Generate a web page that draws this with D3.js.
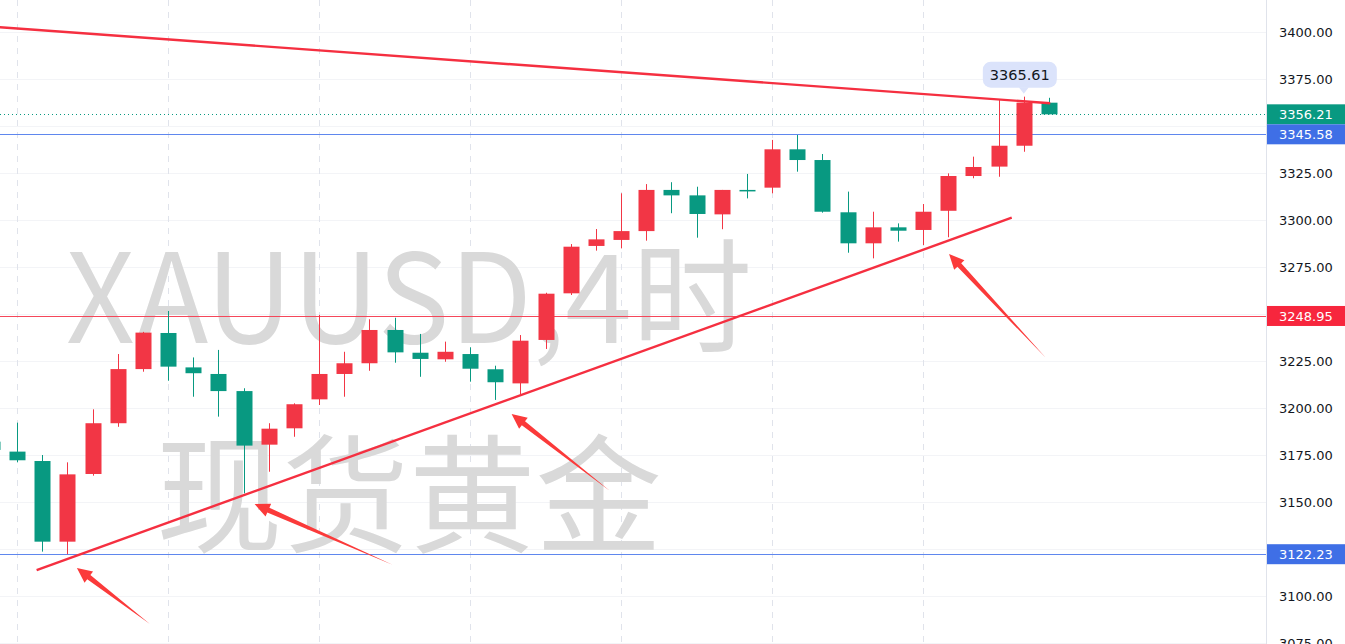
<!DOCTYPE html>
<html><head><meta charset="utf-8">
<script src="https://cdn.jsdelivr.net/npm/d3@7"></script>
<style>html,body{margin:0;padding:0;background:#fff;overflow:hidden}svg{display:block}</style>
</head><body>
<svg id="c" width="1345" height="644"></svg>
<script>
// ---- data ----
const idx    = [-1,0,1,2,3,4,5,6,7,8,9,10,11,12,13,14,15,16,17,18,19,20,21,22,23,24,25,26,27,28,29,30,31,32,33,34,35,36,37,38,39,40,41];
const opens  = [3182.1,3176.8,3171.8,3128.9,3164.9,3191.9,3220.7,3239.9,3221.6,3218.1,3209.0,3180.5,3189.2,3204.6,3218.1,3223.8,3241.5,3229.4,3225.9,3228.7,3220.6,3213.1,3236.2,3261.0,3286.2,3289.4,3294.1,3316.0,3313.1,3303.0,3316.0,3317.2,3337.6,3331.9,3304.1,3287.6,3296.1,3294.7,3304.9,3323.4,3328.4,3339.5,3362.4];
const highs  = [3184.0,3192.2,3175.0,3171.1,3199.3,3228.7,3240.5,3251.6,3226.9,3230.9,3210.5,3191.9,3202.5,3249.5,3229.9,3247.2,3248.0,3239.4,3235.3,3232.3,3222.5,3238.8,3261.3,3287.2,3295.2,3314.2,3319.1,3320.1,3317.7,3316.0,3324.5,3342.6,3345.2,3335.1,3315.1,3304.4,3298.2,3308.5,3324.8,3333.7,3363.8,3365.61,3365.0];
const lows   = [3176.0,3171.1,3123.6,3122.2,3164.0,3190.0,3219.3,3214.5,3206.0,3195.4,3154.6,3166.1,3184.7,3201.6,3206.0,3219.8,3224.1,3216.6,3224.6,3214.0,3204.3,3207.4,3231.4,3260.1,3283.7,3284.9,3289.0,3303.6,3290.6,3295.1,3311.5,3314.2,3325.7,3303.9,3282.6,3279.6,3288.5,3286.7,3290.8,3322.2,3323.0,3336.3,3356.21];
const closes = [3177.7,3172.2,3128.9,3164.7,3191.9,3220.7,3240.1,3222.0,3218.5,3209.0,3180.0,3189.0,3202.0,3218.1,3223.8,3241.5,3229.6,3226.1,3229.9,3220.9,3213.7,3235.8,3260.8,3285.8,3289.7,3294.1,3316.0,3313.1,3303.2,3316.0,3315.3,3337.6,3331.9,3304.4,3287.6,3296.1,3294.3,3304.4,3323.4,3328.2,3339.5,3362.4,3356.21];
const yTicks = [3075,3100,3125,3150,3175,3200,3225,3250,3275,3300,3325,3350,3375,3400];
const yTickLabels = ["3075.00","3100.00","3125.00","3150.00","3175.00","3200.00","3225.00","3250.00","3275.00","3300.00","3325.00","3350.00","3375.00","3400.00"];
const dayStarts = [0,6,12,18,24,30,36];
const levelPrices = [3345.58,3248.95,3122.23];
const levelColors = ["blue","red","blue"];
const lastPrice = 3356.21;
const peakIndex = 40, peakPrice = 3365.61;
const resistLine = [[-1.5,3403.3],[41.05,3362.1]];
const supportLine = [[0.78,3113.8],[39.52,3301.2]];
const arrows = [ // [tail, head]
  [[5.28,3085.1],[2.38,3114.9]],
  [[14.94,3116.5],[9.44,3148.9]],
  [[23.56,3155.9],[19.65,3196.8]],
  [[40.88,3226.6],[37.03,3281.9]]
];
const wmLine1 = "XAUUSD,4时";
const wmLine2 = "现货黄金";

// ---- layout ----
const W = 1345, H = 644, plotRight = 1266;
const UP = "#f23645", DOWN = "#089981";
const BLUE_LINE = "#5f87ee", BLUE_LABEL = "#3f6fe6", RED_LINE = "#f5475a", RED_LABEL = "#f7263d";
const TREND = "#f52f40";

const x = d3.scaleLinear().domain([0,41]).range([17,1049]);
const y = d3.scaleLinear().domain([3075,3400]).range([643,32]);

const svg = d3.select("#c");
svg.append("defs").append("clipPath").attr("id","plot")
  .append("rect").attr("x",0).attr("y",0).attr("width",plotRight).attr("height",H);

const plot = svg.append("g").attr("clip-path","url(#plot)");

// horizontal faint grid
plot.append("g").selectAll("line").data(yTicks).join("line")
  .attr("x1",0).attr("x2",plotRight).attr("y1",d=>Math.round(y(d))+0.5).attr("y2",d=>Math.round(y(d))+0.5)
  .attr("stroke","#f3f4f7").attr("stroke-width",1);
// vertical dashed grid
plot.append("g").selectAll("line").data(dayStarts).join("line")
  .attr("x1",d=>Math.round(x(d))+0.5).attr("x2",d=>Math.round(x(d))+0.5).attr("y1",0).attr("y2",H)
  .attr("stroke","#e0e3eb").attr("stroke-width",1).attr("stroke-dasharray","6,6");

// watermark
const wm = plot.append("g").attr("fill","#d9d9d9").attr("font-family","'Noto Sans CJK SC', sans-serif");
wm.append("text").attr("x",66).attr("y",343).attr("font-size",124).attr("textLength",686).attr("lengthAdjust","spacingAndGlyphs").text(wmLine1);
wm.append("text").attr("x",156).attr("y",543).attr("font-size",128).attr("textLength",506).attr("lengthAdjust","spacingAndGlyphs").text(wmLine2);

// level lines
plot.append("g").selectAll("line").data(levelPrices).join("line")
  .attr("x1",0).attr("x2",plotRight).attr("y1",d=>Math.round(y(d))+0.5).attr("y2",d=>Math.round(y(d))+0.5)
  .attr("stroke",(d,i)=>levelColors[i]==="blue"?BLUE_LINE:RED_LINE).attr("stroke-width",1.2);

// last price dotted line
plot.append("line").attr("x1",0).attr("x2",plotRight).attr("y1",Math.round(y(lastPrice))+0.5).attr("y2",Math.round(y(lastPrice))+0.5)
  .attr("stroke",DOWN).attr("stroke-width",1).attr("stroke-dasharray","1,3");

// candles
const candles = idx.map((d,i)=>({i:d,o:opens[i],h:highs[i],l:lows[i],c:closes[i]}));
const cg = plot.append("g");
const bw = 16;
cg.selectAll("line").data(candles).join("line")
  .attr("x1",d=>Math.round(x(d.i))+0.5).attr("x2",d=>Math.round(x(d.i))+0.5)
  .attr("y1",d=>y(d.h)).attr("y2",d=>y(d.l))
  .attr("stroke",d=>d.c>=d.o?UP:DOWN).attr("stroke-width",1);
cg.selectAll("rect").data(candles).join("rect")
  .attr("x",d=>Math.round(x(d.i))-bw/2+0.5).attr("width",bw)
  .attr("y",d=>y(Math.max(d.o,d.c))).attr("height",d=>Math.max(1.5,Math.abs(y(d.o)-y(d.c))))
  .attr("fill",d=>d.c>=d.o?UP:DOWN);

// trend lines
const lineGen = d3.line().x(d=>x(d[0])).y(d=>y(d[1]));
plot.append("path").attr("d",lineGen(resistLine)).attr("stroke",TREND).attr("stroke-width",2.4).attr("fill","none");
plot.append("path").attr("d",lineGen(supportLine)).attr("stroke",TREND).attr("stroke-width",2.4).attr("fill","none");

// arrows (tapered)
arrows.forEach(([t,h])=>{
  const tx=x(t[0]), ty=y(t[1]), hx=x(h[0]), hy=y(h[1]);
  const dx=hx-tx, dy=hy-ty, len=Math.hypot(dx,dy), ux=dx/len, uy=dy/len, px=-uy, py=ux;
  const headL=15, headW=7, shaftW=2.6;
  const bx=hx-ux*headL, by=hy-uy*headL;
  const pts=[[tx,ty],[bx+px*shaftW,by+py*shaftW],[bx+px*headW,by+py*headW],[hx,hy],[bx-px*headW,by-py*headW],[bx-px*shaftW,by-py*shaftW]];
  plot.append("polygon").attr("points",pts.map(p=>p.join(",")).join(" ")).attr("fill","#fb3a3a");
});

// peak bubble
const bx0=x(peakIndex), by0=y(peakPrice);
const bub = plot.append("g");
bub.append("rect").attr("x",bx0-41).attr("y",by0-35).attr("width",74).attr("height",26).attr("rx",8).attr("fill","#dbe3fb");
bub.append("path").attr("d",`M${bx0-5},${by0-9.5}L${bx0},${by0-3}L${bx0+5},${by0-9.5}Z`).attr("fill","#dbe3fb");
bub.append("text").attr("x",bx0-4).attr("y",by0-16.5).attr("text-anchor","middle")
  .attr("font-family","'DejaVu Sans', sans-serif").attr("font-size",14.5).attr("fill","#131722").text(peakPrice.toFixed(2));

// right axis
const ax = svg.append("g");
ax.append("line").attr("x1",plotRight+0.5).attr("x2",plotRight+0.5).attr("y1",0).attr("y2",H).attr("stroke","#e0e3eb");
const axis = d3.axisRight(y).tickValues(yTicks.filter(v=>v!==3125&&v!==3350)).tickSize(0)
  .tickFormat(v=>yTickLabels[yTicks.indexOf(v)]);
const ag = ax.append("g").attr("transform",`translate(${plotRight},0)`).call(axis);
ag.select(".domain").remove();
ag.selectAll("text").attr("x",13).attr("dy","0.35em").attr("font-family","'DejaVu Sans', sans-serif").attr("font-size",13).attr("fill","#131722");

// price labels
const labels = [
  {p:lastPrice,col:DOWN},
  {p:levelPrices[0],col:BLUE_LABEL},
  {p:levelPrices[1],col:RED_LABEL},
  {p:levelPrices[2],col:BLUE_LABEL}
];
const lg = ax.append("g");
labels.forEach(l=>{
  const cy=y(l.p);
  lg.append("rect").attr("x",plotRight+1).attr("y",cy-10).attr("width",W-plotRight-1).attr("height",20).attr("fill",l.col);
  lg.append("text").attr("x",plotRight+13).attr("y",cy).attr("dy","0.37em").attr("font-family","'DejaVu Sans', sans-serif")
    .attr("font-size",13).attr("fill","#fff").text(l.p.toFixed(2));
});
</script>
</body></html>
